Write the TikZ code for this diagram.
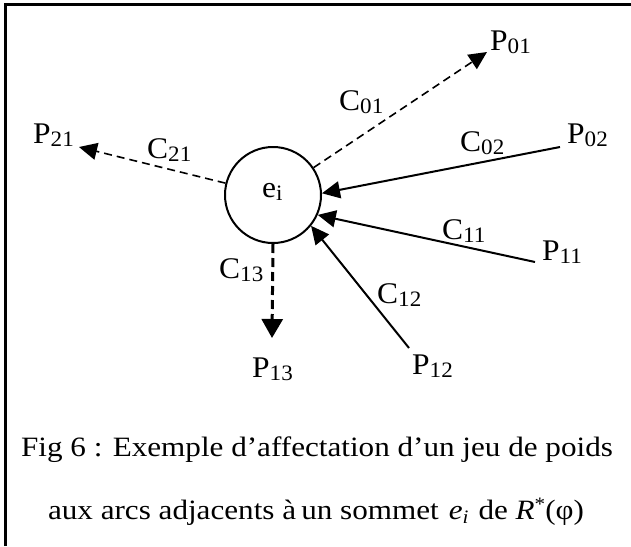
\documentclass[tikz,border=0pt]{standalone}
\usepackage{fontspec}
\setmainfont{Liberation Serif}
\usepackage{graphicx}
\usetikzlibrary{arrows.meta}
\newcommand{\lbl}[2]{\scalebox{1.05}[1]{#1\raisebox{-3pt}{\fontsize{22}{22}\selectfont #2}}}
\tikzset{
  lab/.style={inner sep=0pt, anchor=base west, font=\fontsize{30}{30}\selectfont},
  capt/.style={inner sep=0pt, anchor=base, font=\fontsize{28}{28}\selectfont},
  sol/.style={line width=2pt, -{Triangle[length=18pt,width=17pt]}},
  dsh/.style={line width=1.6pt, dash pattern=on 8pt off 5pt, -{Triangle[length=18pt,width=17pt]}},
  dshb/.style={line width=3pt, dash pattern=on 9pt off 5pt, -{Triangle[length=19pt,width=21pt]}}
}
\begin{document}
\begin{tikzpicture}[x=1pt,y=-1pt]
\useasboundingbox (0,0) rectangle (631,546);
% frame
\draw[line width=3pt] (5.5,546) -- (5.5,4.5) -- (631,4.5);
% central vertex
\node[circle, draw, line width=2pt, minimum size=96pt, inner sep=0pt] (c) at (273,195) {};
\node[lab] (ei) at (262,197) {\lbl{e}{i}};
% end labels
\node[lab] (P01) at (490,50) {\lbl{P}{01}};
\node[lab] (P02) at (567,143) {\lbl{P}{02}};
\node[lab] (P11) at (542,260) {\lbl{P}{11}};
\node[lab] (P12) at (412,374) {\lbl{P}{12}};
\node[lab] (P13) at (252,377) {\lbl{P}{13}};
\node[lab] (P21) at (33,143) {\lbl{P}{21}};
% arc labels
\node[lab] (C01) at (339,110) {\lbl{C}{01}};
\node[lab] (C02) at (460,151) {\lbl{C}{02}};
\node[lab] (C11) at (442,239) {\lbl{C}{11}};
\node[lab] (C12) at (377,303) {\lbl{C}{12}};
\node[lab] (C13) at (219,278) {\lbl{C}{13}};
\node[lab] (C21) at (147,158) {\lbl{C}{21}};
% connector ends
\coordinate (t01) at (487,52);
\coordinate (s02) at (560,147);
\coordinate (s11) at (535,262);
\coordinate (s12) at (409,348);
\coordinate (t13) at (272,338);
\coordinate (t21) at (79,147);
% arcs
\draw[dsh] (c.34) -- (t01);
\draw[sol] (s02) -- (c.2);
\draw[sol] (s11) -- (c.-24);
\draw[sol] (s12) -- (c.-39);
\draw[dshb] (c.-90) -- (t13);
\draw[dsh] (c.166) -- (t21);
% caption
\node[capt] (cap1) at (317,456) {\scalebox{1.112}[1]{Fig 6 : Exemple d’affectation d’un jeu de poids}};
\node[capt] (cap2) at (316,519) {\scalebox{1.112}[1]{aux arcs adjacents à\,un sommet \hspace{2pt}\textit{e}\raisebox{-4pt}{\fontsize{19}{19}\selectfont\textit{i}} \hspace{2pt}de \textit{R}\raisebox{9pt}{\fontsize{19}{19}\selectfont *}(φ)}};
\end{tikzpicture}
\end{document}
